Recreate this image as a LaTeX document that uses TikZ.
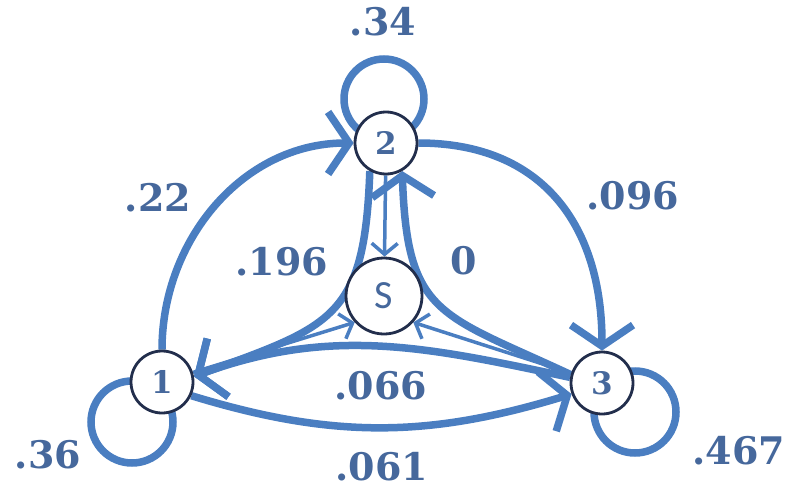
\documentclass[tikz,border=0pt]{standalone}
\usepackage{fontspec}
\setmainfont{DejaVu Serif}
\newfontfamily\sfS{Carlito}
\usetikzlibrary{arrows.meta}
\definecolor{edgeblue}{RGB}{74,126,193}
\definecolor{navy}{RGB}{34,46,76}
\definecolor{lblue}{RGB}{70,104,156}
\pgfdeclarelayer{bg}
\pgfsetlayers{bg,main}
\begin{document}
\begin{tikzpicture}[x=1pt,y=1pt,
 state/.style={circle,draw=navy,line width=2.8pt,fill=white,inner sep=0pt,minimum size=62pt,text=lblue,font=\bfseries\fontsize{31}{31}\selectfont},
 edge/.style={draw=edgeblue,line width=7.5pt,-{Straight Barb[length=21pt,width=62pt]}},
 thinedge/.style={draw=edgeblue,line width=3.5pt,-{Straight Barb[length=11pt,width=26pt]}},
 loopc/.style={draw=edgeblue,line width=7.5pt},
 lbl/.style={text=lblue,font=\bfseries\fontsize{38}{38}\selectfont,inner sep=0pt}]
\useasboundingbox (0,0) rectangle (794,491);
\node[state] (n1) at (162,109) {1};
\node[state] (n2) at (386,348) {2};
\node[state] (n3) at (602,108) {3};
\node[state,minimum size=76pt,font=\sfS\fontsize{40}{40}\selectfont] (s) at (384,195) {S};
\coordinate (c1) at (132,69);
\coordinate (c2) at (384,392);
\coordinate (c3) at (635,79);
\begin{pgfonlayer}{bg}
\draw[loopc] (c1) circle[radius=41];
\draw[loopc] (c2) circle[radius=40];
\draw[loopc] (c3) circle[radius=41];
\draw[edge] (n1.90) to[out=90,in=180] (n2.180);
\draw[edge] (n2.0) to[out=0,in=90,looseness=1.15] (n3.90);
\draw[edge] (n2.240) to[out=268,in=20,looseness=1.4] (n1.10);
\draw[edge] (n3.165) to[out=155,in=-88,looseness=1.4] (n2.300);
\draw[edge] (n3.170) to[out=168,in=20] (n1.10);
\draw[edge] (n1.-25) to[out=-17,in=197] (n3.200);
\draw[thinedge] (n2) -- (s);
\draw[thinedge] (n1) -- (s.222);
\draw[thinedge] (n3) -- (s.318);
\end{pgfonlayer}
\node[lbl] (l34) at (383,469) {.34};
\node[lbl] (l22) at (158,293) {.22};
\node[lbl] (l196) at (282,229) {.196};
\node[lbl] (l0) at (464,230) {0};
\node[lbl] (l096) at (633,295) {.096};
\node[lbl] (l066) at (381,105) {.066};
\node[lbl] (l061) at (382,24) {.061};
\node[lbl] (l36) at (48,36) {.36};
\node[lbl] (l467) at (739,40) {.467};
\end{tikzpicture}
\end{document}
